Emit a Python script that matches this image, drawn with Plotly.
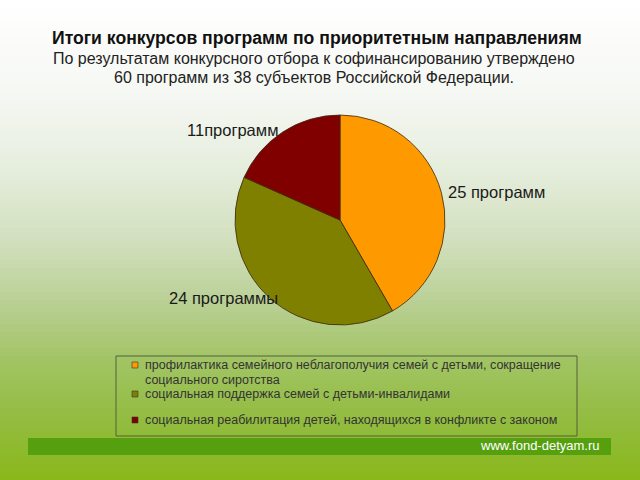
import plotly.graph_objects as go

categories = ["профилактика семейного неблагополучия семей с детьми, сокращение социального сиротства",
              "социальная поддержка семей с детьми-инвалидами",
              "социальная реабилитация детей, находящихся в конфликте с законом"]
values = [25, 24, 11]
slice_labels = ["25 программ", "24 программы", "11программ"]
colors = ["#FF9900", "#808000", "#800000"]

W, H = 640, 480

def px(x):
    return x / W

def py(y):
    return 1 - y / H

fig = go.Figure()
fig.add_trace(go.Pie(
    labels=categories, values=values, sort=False, direction="clockwise", rotation=0,
    marker=dict(colors=colors, line=dict(color="#3a2a10", width=0.8)),
    textinfo="none", hoverinfo="label+value", showlegend=False,
    domain=dict(x=[px(235), px(445)], y=[py(325), py(115)]),
))

shapes = []
# gradient background
stops = [(0, (255, 255, 255)), (90, (246, 248, 244)), (160, (232, 239, 224)),
         (240, (210, 224, 190)), (300, (186, 208, 150)), (360, (162, 196, 100)),
         (420, (146, 188, 64)), (480, (138, 184, 26))]

def col_at(y):
    for (y0, c0), (y1, c1) in zip(stops[:-1], stops[1:]):
        if y0 <= y <= y1:
            t = (y - y0) / (y1 - y0)
            return "rgb(%d,%d,%d)" % tuple(round(a + (b - a) * t) for a, b in zip(c0, c1))
    return "rgb(%d,%d,%d)" % stops[-1][1]

step = 4
for y in range(0, H, step):
    shapes.append(dict(type="rect", xref="paper", yref="paper", x0=0, x1=1,
                       y0=py(y + step), y1=py(y), fillcolor=col_at(y + step / 2),
                       line=dict(width=0), layer="below"))

# bottom green bar
shapes.append(dict(type="rect", xref="paper", yref="paper", x0=px(28), x1=px(611),
                   y0=py(455), y1=py(438), fillcolor="#56a010", line=dict(width=0), layer="below"))
# legend box
shapes.append(dict(type="rect", xref="paper", yref="paper", x0=px(116), x1=px(577),
                   y0=py(436), y1=py(356), fillcolor="rgba(0,0,0,0)",
                   line=dict(color="#55603a", width=1), layer="above"))

annotations = []
font_main = "Liberation Sans, Arial, sans-serif"
annotations.append(dict(text="<b>Итоги конкурсов программ по приоритетным направлениям</b>",
                        x=px(317), y=py(38), xref="paper", yref="paper", showarrow=False,
                        xanchor="center", yanchor="middle",
                        font=dict(family=font_main, size=17.6, color="#111111")))
annotations.append(dict(text="По результатам конкурсного отбора к софинансированию утверждено",
                        x=px(314), y=py(58), xref="paper", yref="paper", showarrow=False,
                        xanchor="center", yanchor="middle",
                        font=dict(family=font_main, size=16, color="#222222")))
annotations.append(dict(text="60 программ из 38 субъектов Российской Федерации.",
                        x=px(314), y=py(78), xref="paper", yref="paper", showarrow=False,
                        xanchor="center", yanchor="middle",
                        font=dict(family=font_main, size=16, color="#222222")))

label_pos = [(446, 192, "left"), (280, 298, "right"), (280, 130, "right")]
for (x, y, anc), t in zip(label_pos, slice_labels):
    annotations.append(dict(text=t, x=px(x), y=py(y), xref="paper", yref="paper",
                            showarrow=False, xanchor=anc, yanchor="middle",
                            font=dict(family=font_main, size=16.5, color="#1a1a1a")))

# legend
legend_rows = [(365, ["профилактика семейного неблагополучия семей с детьми, сокращение",
                      "социального сиротства"]),
               (394, ["социальная поддержка семей с детьми-инвалидами"]),
               (420, ["социальная реабилитация детей, находящихся в конфликте с законом"])]
for (y, lines), c in zip(legend_rows, colors):
    shapes.append(dict(type="rect", xref="paper", yref="paper", x0=px(132), x1=px(138),
                       y0=py(y + 3), y1=py(y - 3), fillcolor=c,
                       line=dict(color="#333333", width=0.6), layer="above"))
    for i, ln in enumerate(lines):
        annotations.append(dict(text=ln, x=px(143), y=py(y + 15 * i), xref="paper", yref="paper",
                                showarrow=False, xanchor="left", yanchor="middle",
                                font=dict(family=font_main, size=12.5, color="#333333")))

annotations.append(dict(text="www.fond-detyam.ru", x=px(602), y=py(445), xref="paper", yref="paper",
                        showarrow=False, xanchor="right", yanchor="middle",
                        font=dict(family=font_main, size=13, color="#ffffff")))

fig.update_layout(width=W, height=H, margin=dict(l=0, r=0, t=0, b=0),
                  paper_bgcolor="white", plot_bgcolor="white",
                  shapes=shapes, annotations=annotations, showlegend=False)
fig.write_html("out.html")
